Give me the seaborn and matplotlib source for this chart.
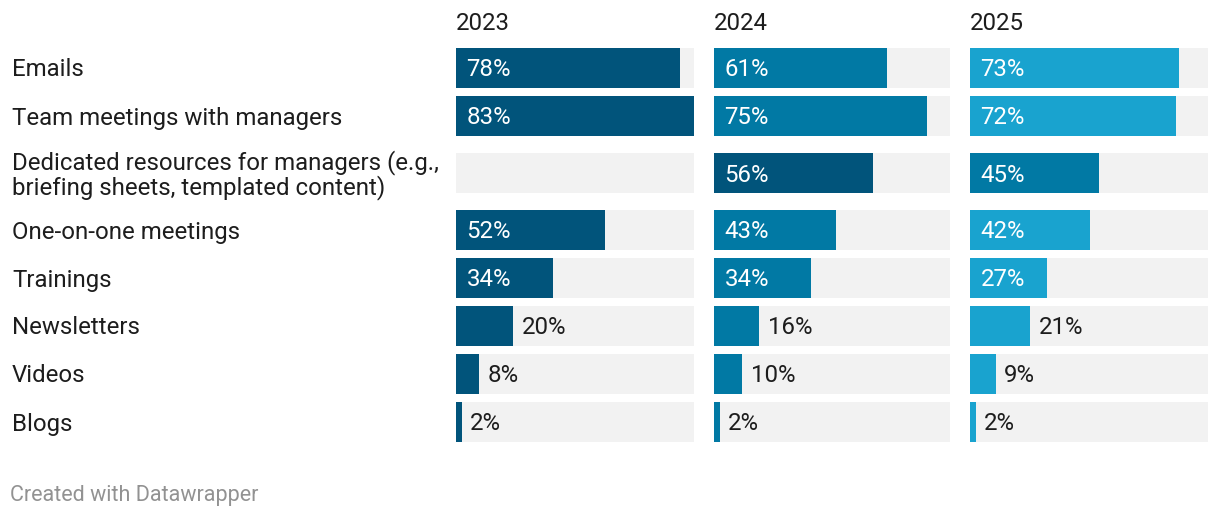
import numpy as np
import pandas as pd
import matplotlib.pyplot as plt
import matplotlib.transforms as mtransforms
import seaborn as sns

sns.set_theme(style="white")
plt.rcParams['font.family'] = ['Roboto', 'DejaVu Sans']

channels = ["Emails",
            "Team meetings with managers",
            "Dedicated resources for managers (e.g.,\nbriefing sheets, templated content)",
            "One-on-one meetings",
            "Trainings",
            "Newsletters",
            "Videos",
            "Blogs"]
years = ["2023", "2024", "2025"]
share_2023 = [78, 83, np.nan, 52, 34, 20, 8, 2]
share_2024 = [61, 75, 56, 43, 34, 16, 10, 2]
share_2025 = [73, 72, 45, 42, 27, 21, 9, 2]

shades = ["#01547b", "#0179a4", "#19a3cf"]
track_color = "#f2f2f2"
text_color = "#1d1d1d"
fsize = 17.3

W, H = 1220, 518
panel_left = [456, 714, 970]
panel_width = [238, 236, 238]
pitch = 48
bar_h = 40
first_row = 68
extra = 9  # additional space around two-line labels
dy = 2     # text sits a bit lower than the bbox centre


def row_positions(labels):
    pos = []
    y = first_row
    for i, lab in enumerate(labels):
        two_line = "\n" in lab
        if i > 0:
            y += pitch
        if two_line:
            y += extra
        pos.append(y)
        if two_line:
            y += extra
    return pos


ypos = row_positions(channels)
values = {"2023": share_2023, "2024": share_2024, "2025": share_2025}

rows = []
for i, ch in enumerate(channels):
    rank = 0
    for yr in years:
        v = values[yr][i]
        shade = None
        if not np.isnan(v):
            shade = "s%d" % rank
            rank += 1
        rows.append({"channel": ch, "year": yr, "value": v,
                     "ypos": ypos[i], "shade": shade})
df = pd.DataFrame(rows)
full = np.nanmax(df["value"])
df["full"] = full

fig = plt.figure(figsize=(W / 100, H / 100), dpi=100)
palette = {"s%d" % k: c for k, c in enumerate(shades)}

axes = []
for k, yr in enumerate(years):
    ax = fig.add_axes([panel_left[k] / W, 0, panel_width[k] / W, 1])
    sub = df[df["year"] == yr]
    sns.barplot(data=sub, x="full", y="ypos", orient="y", native_scale=True,
                color=track_color, width=bar_h / pitch, errorbar=None,
                saturation=1, linewidth=0, ax=ax)
    have = sub.dropna(subset=["value"])
    sns.barplot(data=have, x="value", y="ypos", hue="shade", palette=palette,
                orient="y", native_scale=True, width=bar_h / pitch,
                errorbar=None, saturation=1, dodge=False, legend=False,
                linewidth=0, ax=ax)
    ax.set_xlim(0, full)
    ax.set_ylim(H, 0)
    ax.axis("off")
    for _, r in have.iterrows():
        label = "%d%%" % r["value"]
        if r["value"] >= 25:
            ax.annotate(label, (0, r["ypos"] + dy), xytext=(7.5, 0),
                        textcoords="offset points", va="center", ha="left",
                        color="white", fontsize=fsize)
        else:
            ax.annotate(label, (r["value"], r["ypos"] + dy), xytext=(6, 0),
                        textcoords="offset points", va="center", ha="left",
                        color=text_color, fontsize=fsize)
    ax.text(0, 24, yr, va="center", ha="left", color=text_color, fontsize=fsize)
    axes.append(ax)

trans = mtransforms.blended_transform_factory(fig.transFigure, axes[0].transData)
for ch, y in zip(channels, ypos):
    axes[0].text(12 / W, y + dy, ch, transform=trans, va="center", ha="left",
                 color=text_color, fontsize=fsize, linespacing=1.05)

fig.text(10 / W, 1 - 496 / H, "Created with Datawrapper", va="center",
         ha="left", color="#929292", fontsize=15.5)

fig.savefig("out.png", dpi=100, facecolor="white")
